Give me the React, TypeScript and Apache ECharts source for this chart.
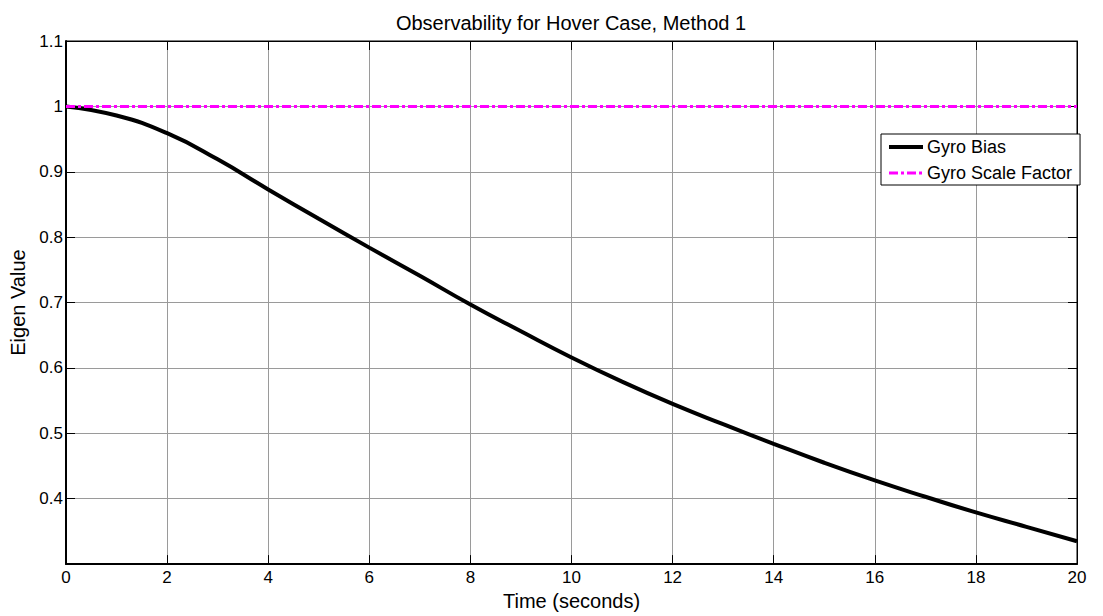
import React, { useEffect, useRef } from "react";
import * as echarts from "echarts";

// Time samples (seconds)
const timeSec: number[] = [0, 1, 2, 3, 4, 5, 6, 7, 8, 9, 10, 11, 12, 13, 14, 15, 16, 17, 18, 19, 20];
// Normalised eigen value for the gyro bias state
const gyroBias: number[] = [1.0, 0.986, 0.959, 0.919, 0.873, 0.828, 0.784, 0.741, 0.697, 0.656, 0.616, 0.579, 0.545, 0.514, 0.484, 0.455, 0.428, 0.403, 0.379, 0.357, 0.335];
// Normalised eigen value for the gyro scale factor state
const gyroScaleFactor: number[] = [1, 1, 1, 1, 1, 1, 1, 1, 1, 1, 1, 1, 1, 1, 1, 1, 1, 1, 1, 1, 1];

const seriesNames = ["Gyro Bias", "Gyro Scale Factor"];
const titleText = "Observability for Hover Case, Method 1";
const xName = "Time (seconds)";
const yName = "Eigen Value";

const FONT = "'Liberation Sans', Arial, Helvetica, sans-serif";
const BIAS_LINE = { color: "#000", width: 4 };
const SCALE_LINE = { color: "#ff00ff", width: 3, type: [9, 3, 3, 3] as number[] };

export default function App() {
  const ref = useRef<HTMLDivElement>(null);

  useEffect(() => {
    if (!ref.current) return;
    const chart = echarts.init(ref.current, undefined, { renderer: "svg" });

    const pair = (ys: number[]) => timeSec.map((t, i) => [t, ys[i]]);
    const fmtY = (v: number) => (Math.abs(v - 0.3) < 1e-6 ? "" : String(+v.toFixed(1)));

    const gridLine = { show: true, lineStyle: { color: "#9a9a9a", width: 1 } };

    chart.setOption({
      animation: false,
      backgroundColor: "#ffffff",
      textStyle: { fontFamily: FONT },
      title: {
        text: titleText,
        left: 566,
        textAlign: "center",
        top: 8,
        textStyle: { fontSize: 20, fontWeight: "normal", color: "#000", fontFamily: FONT },
      },
      grid: {
        left: 66,
        right: 26,
        top: 41,
        bottom: 49,
        show: true,
        borderColor: "#000",
        borderWidth: 1,
        backgroundColor: "#fff",
      },
      legend: {
        orient: "vertical",
        left: 881,
        top: 134,
        backgroundColor: "#fff",
        borderColor: "#000",
        borderWidth: 1,
        borderRadius: 0,
        padding: [4, 8, 3, 6],
        itemWidth: 34,
        itemHeight: 14,
        itemGap: 8,
        itemStyle: { opacity: 0 },
        textStyle: { fontSize: 18, color: "#000", fontFamily: FONT, padding: [0, 0, 0, -1] },
        data: [
          { name: seriesNames[0], lineStyle: BIAS_LINE },
          { name: seriesNames[1], lineStyle: SCALE_LINE },
        ],
      },
      xAxis: [
        {
          type: "value",
          min: 0,
          max: 20,
          interval: 2,
          position: "bottom",
          name: xName,
          nameLocation: "middle",
          nameGap: 20,
          nameTextStyle: { fontSize: 20, color: "#000", fontFamily: FONT },
          axisLine: { show: true, onZero: false, lineStyle: { color: "#000", width: 2 } },
          axisTick: { show: true, inside: true, length: 9, lineStyle: { color: "#000" } },
          axisLabel: { fontSize: 17, color: "#000", margin: 5, fontFamily: FONT },
          splitLine: gridLine,
        },
        {
          type: "value",
          min: 0,
          max: 20,
          interval: 2,
          position: "top",
          axisLine: { show: true, onZero: false, lineStyle: { color: "#000", width: 1 } },
          axisTick: { show: true, inside: true, length: 9, lineStyle: { color: "#000" } },
          axisLabel: { show: false },
          splitLine: { show: false },
        },
      ],
      yAxis: [
        {
          type: "value",
          min: 0.3,
          max: 1.1,
          interval: 0.1,
          position: "left",
          name: yName,
          nameLocation: "middle",
          nameGap: 32,
          nameTextStyle: { fontSize: 20, color: "#000", fontFamily: FONT },
          axisLine: { show: true, onZero: false, lineStyle: { color: "#000", width: 2 } },
          axisTick: { show: true, inside: true, length: 9, lineStyle: { color: "#000" } },
          axisLabel: { fontSize: 17, color: "#000", margin: 3, fontFamily: FONT, formatter: fmtY },
          splitLine: gridLine,
        },
        {
          type: "value",
          min: 0.3,
          max: 1.1,
          interval: 0.1,
          position: "right",
          axisLine: { show: true, onZero: false, lineStyle: { color: "#000", width: 1 } },
          axisTick: { show: true, inside: true, length: 9, lineStyle: { color: "#000" } },
          axisLabel: { show: false },
          splitLine: { show: false },
        },
      ],
      series: [
        {
          name: seriesNames[0],
          type: "line",
          data: pair(gyroBias),
          smooth: 0.5,
          showSymbol: false,
          symbol: "none",
          color: "#000",
          lineStyle: BIAS_LINE,
          z: 3,
        },
        {
          name: seriesNames[1],
          type: "line",
          data: pair(gyroScaleFactor),
          showSymbol: false,
          symbol: "none",
          color: "#ff00ff",
          lineStyle: SCALE_LINE,
          z: 4,
        },
      ],
    });

    return () => chart.dispose();
  }, []);

  return <div ref={ref} style={{ width: 1103, height: 616, position: "absolute", left: 0, top: 0 }} />;
}
